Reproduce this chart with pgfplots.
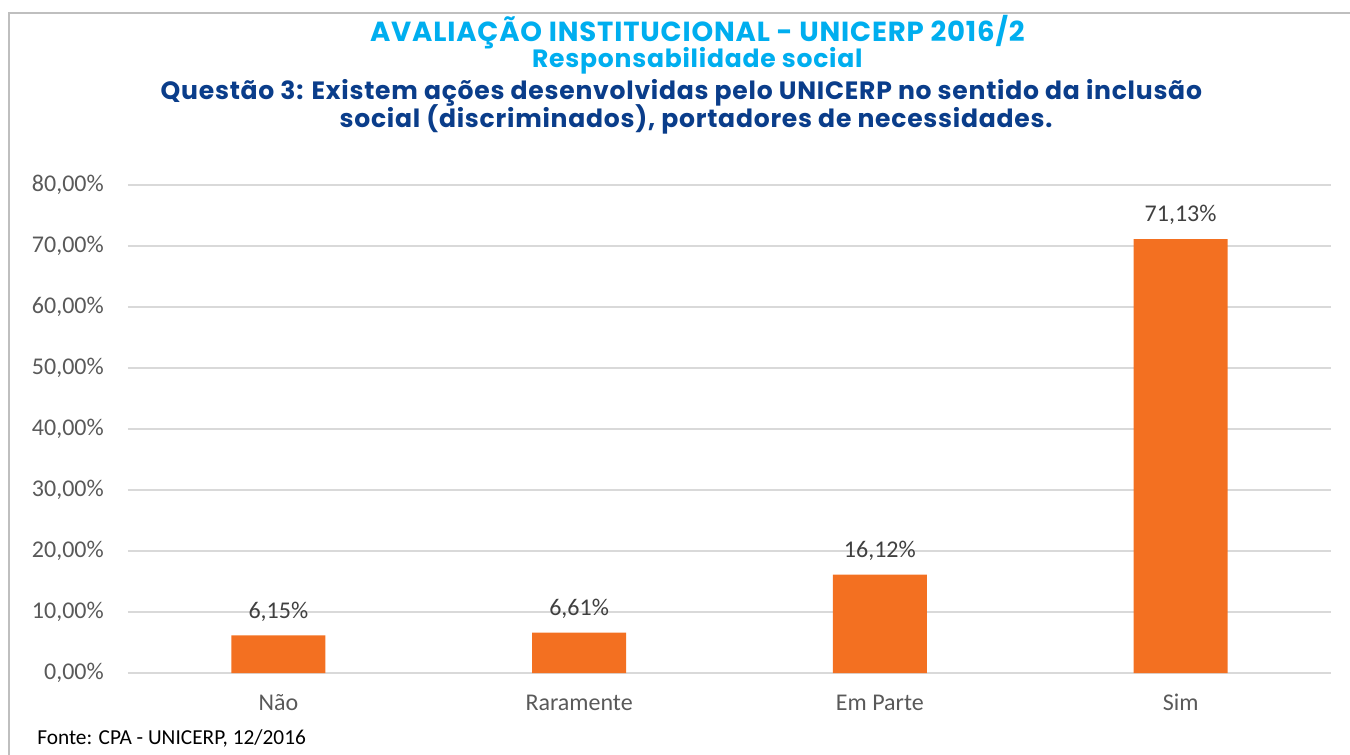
\documentclass[border=0pt]{standalone}
\usepackage{pgfplots}
\pgfplotsset{compat=1.18}
\usepackage{fontspec}
\setmainfont{Carlito}
\newfontfamily\titlefont{Poppins}[LetterSpace=3]
\definecolor{orbar}{HTML}{F37021}
\definecolor{lblue}{HTML}{00AEEF}
\definecolor{dblue}{HTML}{0A3D8A}
\definecolor{gridc}{HTML}{D9D9D9}
\definecolor{tickc}{HTML}{595959}
\definecolor{lblc}{HTML}{404040}
\definecolor{framec}{HTML}{BFBFBF}
\begin{document}
\begin{tikzpicture}
\useasboundingbox (0,0) rectangle (1012.5pt,565.5pt);
\begin{scope}
\clip (0,0) rectangle (1012.5pt,565.5pt);
\draw[framec, line width=1.2pt] (6.75pt,-5pt) -- (6.75pt,555.75pt) -- (1020pt,555.75pt);
\end{scope}
% titles
\node[anchor=base, inner sep=0, text=lblue, font=\titlefont\bfseries\fontsize{20.7}{23}\selectfont] at (523pt,534pt) {AVALIAÇÃO INSTITUCIONAL - UNICERP 2016/2};
\node[anchor=base, inner sep=0, text=lblue, font=\titlefont\bfseries\fontsize{18.8}{21}\selectfont] at (523pt,514.5pt) {Responsabilidade social};
\node[anchor=base, inner sep=0, text=dblue, font=\titlefont\bfseries\fontsize{18.8}{21}\selectfont] at (511pt,490.5pt) {Questão 3: Existem ações desenvolvidas pelo UNICERP no sentido da inclusão};
\node[anchor=base, inner sep=0, text=dblue, font=\titlefont\bfseries\fontsize{18.8}{21}\selectfont] at (522pt,469.5pt) {social (discriminados), portadores de necessidades.};
\node[anchor=base west, inner sep=0, font=\fontsize{16}{19}\selectfont] at (27.75pt,7.5pt) {Fonte: CPA - UNICERP, 12/2016};
\begin{axis}[
  at={(96pt,60.75pt)}, anchor=south west,
  scale only axis, width=902.25pt, height=366pt,
  xmin=-0.5, xmax=3.5, ymin=0, ymax=80,
  ytick={0,10,...,80},
  xtick={0,1,2,3},
  xticklabels={Não,Raramente,Em Parte,Sim},
  /pgf/number format/assume math mode=true,
  yticklabel={\pgfmathprintnumber[fixed,fixed zerofill,precision=2,use comma]{\tick}\%},
  ymajorgrids, grid style={gridc, line width=1.2pt},
  axis line style={draw=none},
  major tick length=0pt,
  tick label style={font=\fontsize{18}{21}\selectfont, text=tickc},
  yticklabel style={anchor=east, xshift=-18pt, inner sep=0pt},
  xticklabel style={anchor=base, yshift=-27.75pt, inner sep=0pt},
  ybar, bar width=70.5pt,
  nodes near coords={\pgfmathprintnumber[fixed,fixed zerofill,precision=2,use comma]{\pgfplotspointmeta}\%},
  every node near coord/.append style={anchor=base, yshift=13pt, inner sep=0pt, font=\fontsize{18}{21}\selectfont, text=lblc},
  clip=false,
]
\addplot[fill=orbar, draw=none] coordinates {(0,6.15) (1,6.61) (2,16.12) (3,71.13)};
\end{axis}
\end{tikzpicture}
\end{document}
